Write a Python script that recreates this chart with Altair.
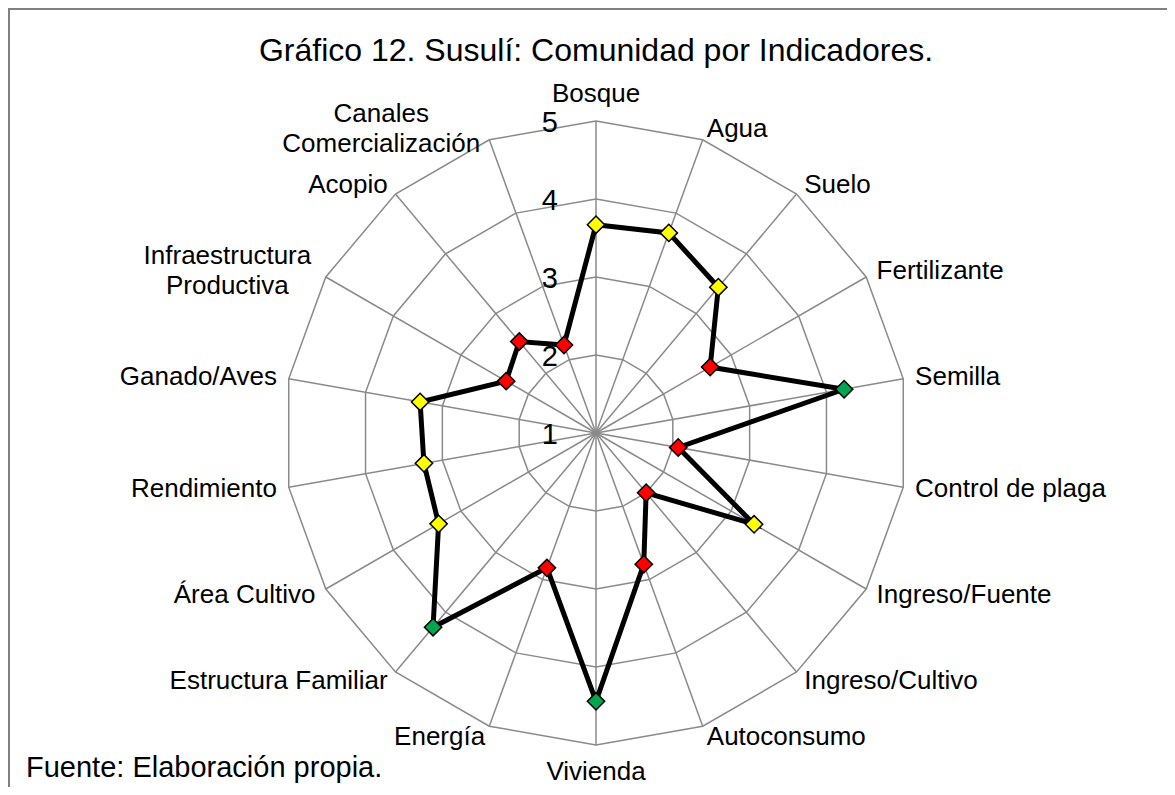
import math
import altair as alt
import pandas as pd

# ---------------- data ----------------
titulo = "Gráfico 12. Susulí: Comunidad por Indicadores."
fuente = "Fuente: Elaboración propia."
categorias = [
    "Bosque", "Agua", "Suelo", "Fertilizante", "Semilla", "Control de plaga",
    "Ingreso/Fuente", "Ingreso/Cultivo", "Autoconsumo", "Vivienda", "Energía",
    "Estructura Familiar", "Área Cultivo", "Rendimiento", "Ganado/Aves",
    "Infraestructura\nProductiva", "Acopio", "Canales\nComercialización",
]
valores = [3.67, 3.73, 3.44, 2.69, 4.23, 2.07, 3.34, 2.00, 2.79, 4.44,
           2.84, 4.25, 3.33, 3.24, 3.29, 2.33, 2.53, 2.20]
semaforo = ["amarillo", "amarillo", "amarillo", "rojo", "verde", "rojo",
            "amarillo", "rojo", "rojo", "verde", "rojo", "verde",
            "amarillo", "amarillo", "amarillo", "rojo", "rojo", "rojo"]
niveles = [1, 2, 3, 4, 5]
sem_dominio = ["rojo", "amarillo", "verde"]
sem_colores = ["#FF0000", "#FFFF00", "#00A550"]

# ---------------- layout ----------------
FONT = "Liberation Sans, Arial, sans-serif"
W, H = 1159, 779
CX, CY = 588, 425       # centre of the radar inside the view (px)
UNIT = 78.0             # px per unit of value
GAP = 12.0              # px between outer vertex and label
N = len(categorias)
vmin, vmax = niveles[0], niveles[-1]
R = vmax - vmin

xs = alt.Scale(domain=[-CX / UNIT, (W - CX) / UNIT], nice=False, zero=False)
ys = alt.Scale(domain=[-(H - CY) / UNIT, CY / UNIT], nice=False, zero=False)
X = alt.X("x:Q", scale=xs, axis=None)
Y = alt.Y("y:Q", scale=ys, axis=None)


def ang(i):
    return 2 * math.pi * i / N


# Arial / Liberation Sans advance widths (em) for estimating label widths
_w = dict(a=.556, b=.556, c=.5, d=.556, e=.556, f=.278, g=.556, h=.556, i=.222,
          j=.222, k=.5, l=.222, m=.833, n=.556, o=.556, p=.556, q=.556, r=.333,
          s=.5, t=.278, u=.556, v=.5, w=.722, x=.5, y=.5, z=.5, C=.722, I=.278,
          P=.667)
_w.update({"ó": .556, "á": .556, "í": .278, " ": .278})


def text_w(s, size):
    return sum(_w.get(ch, .667) for ch in s) * size


# series
serie = pd.DataFrame([
    dict(orden=k, cat=categorias[k % N], sem=semaforo[k % N],
         x=(valores[k % N] - vmin) * math.sin(ang(k)),
         y=(valores[k % N] - vmin) * math.cos(ang(k)))
    for k in range(N + 1)
])
puntos = serie.iloc[:N]

# grid rings
anillos = pd.DataFrame([
    dict(nivel=lv, orden=k,
         x=(lv - vmin) * math.sin(ang(k)), y=(lv - vmin) * math.cos(ang(k)))
    for lv in niveles[1:] for k in range(N + 1)
])
# spokes
radios = pd.DataFrame([
    dict(x=0.0, y=0.0, x2=R * math.sin(ang(k)), y2=R * math.cos(ang(k)))
    for k in range(N)
])
# value labels
marcas = pd.DataFrame([dict(x=0.0, y=lv - vmin, t=str(lv)) for lv in niveles])

# category labels
LAB_SIZE = 26
LINE_H = 30
filas = []
for k, c in enumerate(categorias):
    s, co = math.sin(ang(k)), math.cos(ang(k))
    if abs(s) < 0.01:
        rr = R + (GAP + 15) / UNIT
        tipo = "centro"
        lx, ly = rr * s, rr * co
    else:
        rr = R + GAP / UNIT
        lx, ly = rr * s, rr * co
        if "\n" in c:
            hw = max(text_w(p, LAB_SIZE) for p in c.split("\n")) / 2 / UNIT
            lx = lx - hw * 1.05 if s < 0 else lx + hw * 1.05
            tipo = "multi"
        else:
            tipo = "der" if s > 0 else "izq"
    filas.append(dict(x=lx, y=ly, t=c, tipo=tipo))
etiquetas = pd.DataFrame(filas)

GRID = "#8a8a8a"

capa_anillos = alt.Chart(anillos).mark_line(color=GRID, strokeWidth=1.5).encode(
    x=X, y=Y, detail="nivel:N", order="orden:Q")
capa_radios = alt.Chart(radios).mark_rule(color=GRID, strokeWidth=1.5).encode(
    x=X, y=Y, x2="x2:Q", y2="y2:Q")
capa_marcas = alt.Chart(marcas).mark_text(
    align="right", baseline="middle", dx=-38, dy=2, fontSize=29, font=FONT,
    color="black").encode(x=X, y=Y, text="t:N")
capa_linea = alt.Chart(serie).mark_line(color="black", strokeWidth=5).encode(
    x=X, y=Y, order="orden:Q")
capa_puntos = alt.Chart(puntos).mark_point(
    shape="diamond", filled=True, size=300, stroke="black", strokeWidth=1.5,
    opacity=1).encode(
    x=X, y=Y,
    fill=alt.Fill("sem:N", scale=alt.Scale(domain=sem_dominio, range=sem_colores),
                  legend=None))


def etq(tipo, align, dy=0):
    return alt.Chart(etiquetas).transform_filter(
        alt.datum.tipo == tipo).mark_text(
        align=align, baseline="middle", fontSize=LAB_SIZE, font=FONT,
        color="black", lineBreak="\n", lineHeight=LINE_H, dy=dy).encode(
        x=X, y=Y, text="t:N")


capa_titulo = alt.Chart(pd.DataFrame({"t": [titulo]})).mark_text(
    align="center", baseline="alphabetic", fontSize=32, font=FONT,
    color="black").encode(x=alt.value(CX), y=alt.value(53), text="t:N")
capa_fuente = alt.Chart(pd.DataFrame({"t": [fuente]})).mark_text(
    align="left", baseline="alphabetic", fontSize=29, font=FONT,
    color="black").encode(x=alt.value(18), y=alt.value(769), text="t:N")
borde_izq = alt.Chart(pd.DataFrame({"a": [0]})).mark_rule(
    color="#808080", strokeWidth=2).encode(
    x=alt.value(1), y=alt.value(0), y2=alt.value(H))
borde_sup = alt.Chart(pd.DataFrame({"a": [0]})).mark_rule(
    color="#808080", strokeWidth=2).encode(
    x=alt.value(0), x2=alt.value(W), y=alt.value(1))

chart = alt.layer(
    capa_anillos, capa_radios, capa_marcas, capa_linea, capa_puntos,
    etq("der", "left"), etq("izq", "right"), etq("centro", "center"),
    etq("multi", "center", dy=-LINE_H / 2),
    capa_titulo, capa_fuente, borde_izq, borde_sup,
).properties(
    width=W, height=H, padding=0,
    autosize=alt.AutoSizeParams(type="none"),
    background="white",
).configure_view(stroke=None)

chart.save("out.html", embed_options={"renderer": "svg", "actions": False})
